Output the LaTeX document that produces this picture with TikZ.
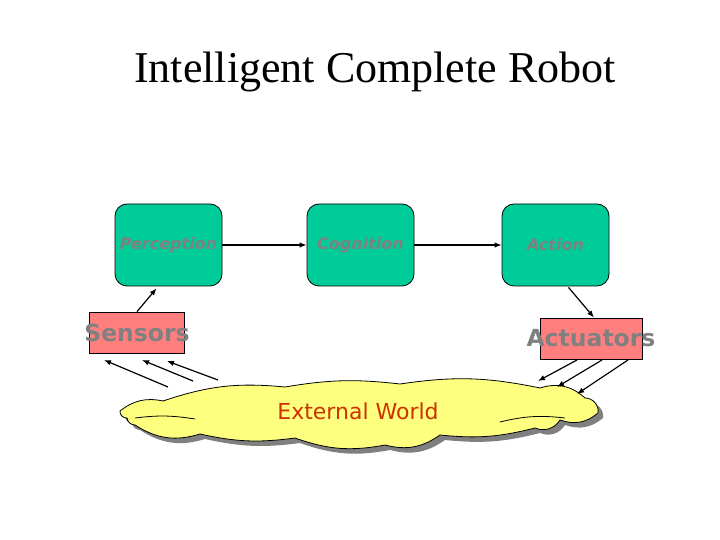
\documentclass[tikz,border=0pt]{standalone}
\usepackage{fontspec}
\setmainfont{Liberation Serif}
\setsansfont{DejaVu Sans}
\usetikzlibrary{shadows,arrows.meta}
\definecolor{blockgreen}{HTML}{00CC99}
\definecolor{devred}{HTML}{FF7F7F}
\definecolor{worldyellow}{HTML}{FFFF7F}
\definecolor{worldtext}{HTML}{CC3300}
\begin{document}
\begin{tikzpicture}[x=1pt,y=1pt,
  block/.style={draw,line width=0.8pt,rounded corners=12pt,fill=blockgreen,minimum width=107pt,minimum height=82pt,
    font=\sffamily\bfseries\itshape\fontsize{16}{18}\selectfont,text=gray},
  device/.style={draw,line width=0.8pt,fill=devred,inner sep=0pt},
  devtext/.style={font=\sffamily\bfseries\fontsize{23.5}{26}\selectfont,text=gray},
  link/.style={draw,line width=1.2pt,-{Latex[length=7pt,width=5.5pt]}}]
\useasboundingbox (0,0) rectangle (720,540);

\node[font=\fontsize{44}{50}\selectfont] (title) at (375,468) {Intelligent Complete Robot};

\node[block] (P) at (168.5,295) {Perception};
\node[block] (C) at (360.5,295) {Cognition};
\node[block] (A) at (555.5,295) {\raisebox{-2pt}{Action}};

\node[device,minimum width=95pt,minimum height=41pt] (S) at (137,207.5) {};
\node[device,minimum width=102pt,minimum height=41pt] (R) at (591,201.5) {};
\node[devtext] (Stext) at (137,207.5) {Sensors};
\node[devtext] (Rtext) at (591,201.5) {Actuators};

% external world cloud
\path[draw,line width=0.8pt,fill=worldyellow,drop shadow={shadow xshift=5pt,shadow yshift=-5pt,fill=gray,opacity=1}]
  (120,129) to[bend left=25] (163,139) to[bend left=12] (285,153) to[bend left=8] (400,156)
  to[bend left=10] (540,152) to[bend left=30] (585,142) to[bend left=50] (598,127)
  to[bend left=30] (560,120) to[bend left=40] (535,112) to[bend left=10] (440,105)
  to[bend left=25] (385,95) to[bend left=15] (295,102) to[bend left=10] (200,106)
  to[bend left=25] (135,115) to[bend left=40] (127,122) to[bend left=50] cycle;
\draw[line width=0.8pt] (135,122) to[bend left=8] (195,121);
\draw[line width=0.8pt] (500,118) to[bend left=10] (565,122);
\node[font=\sffamily\fontsize{22}{26}\selectfont,text=worldtext] (W) at (358,129) {External World};

\coordinate (s1) at (168,153);
\coordinate (s2) at (193,159);
\coordinate (s3) at (218,160);
\coordinate (t1) at (104,180);
\coordinate (t2) at (142,180);
\coordinate (t3) at (167,179);
\coordinate (a1) at (577,180);
\coordinate (a2) at (602,180);
\coordinate (a3) at (628,180);
\coordinate (b1) at (538,159);
\coordinate (b2) at (557,153);
\coordinate (b3) at (577,146);

\path[link] (P) -- (C);
\path[link] (C) -- (A);
\path[link] (S.north) -- ([xshift=-12pt,yshift=-2pt]P.south);
\path[link] ([xshift=13pt,yshift=-1pt]A.south) -- ([xshift=3pt]R.north);

\path[link] (s1) -- (t1);
\path[link] (s2) -- (t2);
\path[link] (s3) -- (t3);
\path[link] (a1) -- (b1);
\path[link] (a2) -- (b2);
\path[link] (a3) -- (b3);

\end{tikzpicture}
\end{document}
